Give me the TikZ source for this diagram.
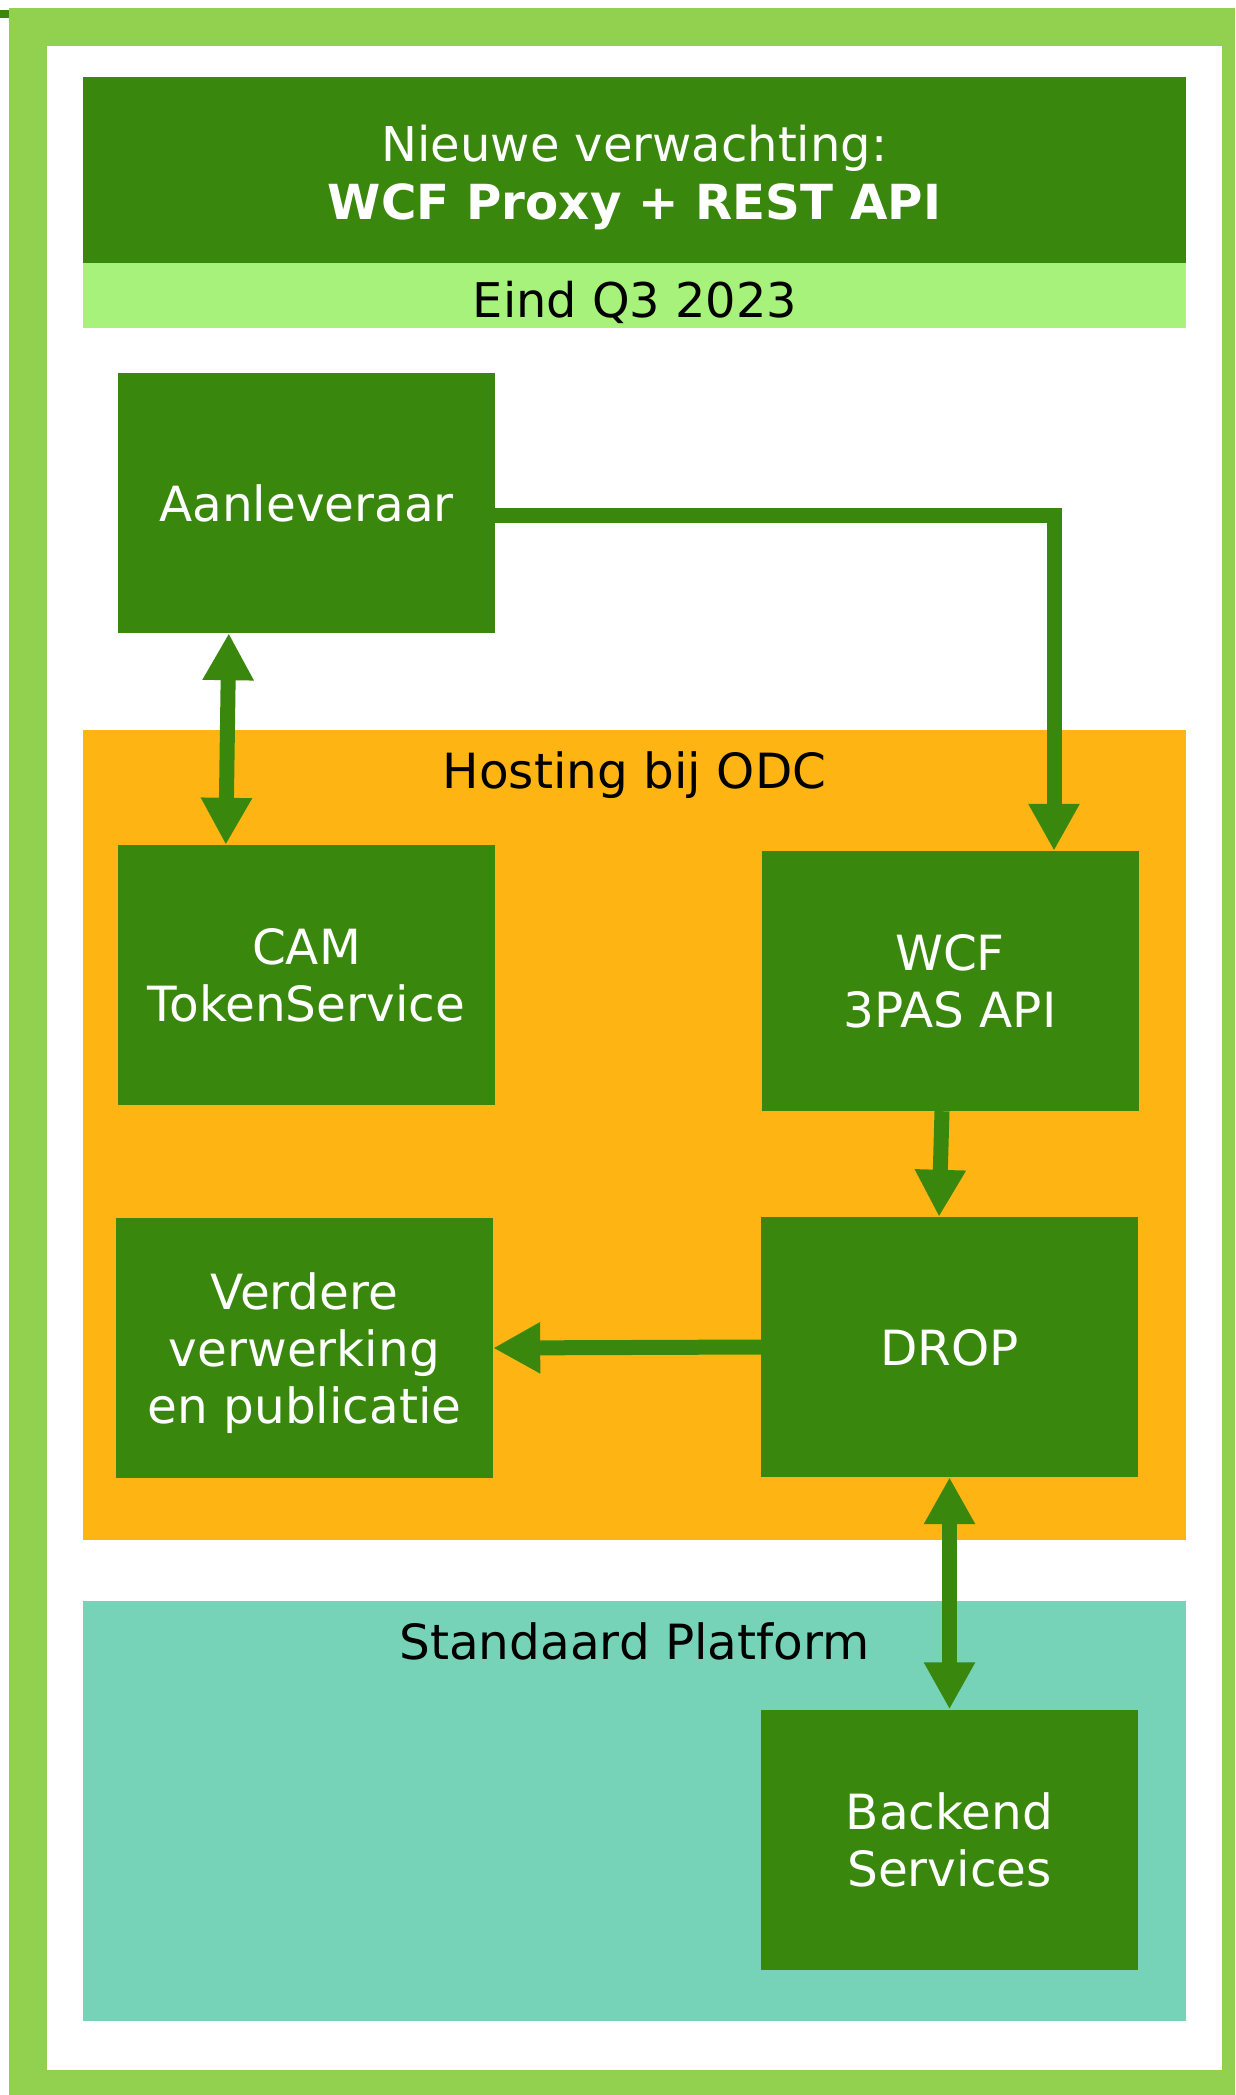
\documentclass[tikz,border=0pt]{standalone}
\usepackage{fontspec}
\setmainfont{DejaVu Sans}
\usetikzlibrary{arrows.meta}
\definecolor{frameG}{HTML}{92D050}
\definecolor{darkG}{HTML}{3A870D}
\definecolor{lightG}{HTML}{A6F27A}
\definecolor{orangeB}{HTML}{FEB513}
\definecolor{tealB}{HTML}{76D3B7}
\begin{document}
\begin{tikzpicture}[x=1pt,y=-1pt,
  box/.style={fill=darkG, text=white, minimum width=377pt, minimum height=260pt,
    inner sep=0pt, align=center, text depth=0pt, font=\fontsize{48.5}{57}\selectfont},
  hdr/.style={anchor=base, inner sep=0pt, font=\fontsize{48.5}{57}\selectfont},
  ttl/.style={anchor=base, inner sep=0pt, text=white, font=\fontsize{48}{57}\selectfont},
  conn/.style={draw=darkG, line width=15pt},
  both/.style={conn, {Triangle[width=48pt,length=47pt]}-{Triangle[width=48pt,length=47pt]}},
  one/.style={conn, -{Triangle[width=48pt,length=47pt]}}]
\useasboundingbox (0,0) rectangle (1235,2095);
% frame
\fill[frameG] (9,8) rectangle (1235,2095);
\fill[white] (47,46) rectangle (1222,2070);
\fill[darkG] (0,10) rectangle (9,18);
% regions
\fill[darkG] (83,77) rectangle (1186,263);
\node[ttl] (t1) at (634.5,161.6) {Nieuwe verwachting:};
\node[ttl, font=\fontsize{48.3}{57}\selectfont\bfseries] (t2) at (634.5,219.5) {WCF Proxy + REST API};
\fill[lightG] (83,263) rectangle (1186,328);
\node[hdr, font=\fontsize{47.8}{57}\selectfont] (eind) at (635,317) {Eind Q3 2023};
\fill[orangeB] (83,730) rectangle (1186,1540);
\node[hdr] (host) at (634.5,788) {Hosting bij ODC};
\fill[tealB] (83,1601) rectangle (1186,2021);
\node[hdr] (std) at (634.5,1659) {Standaard Platform};
% boxes
\node[box] (aan) at (306.5,503) {Aanleveraar};
\node[box] (cam) at (306.5,975) {CAM\\TokenService};
\node[box] (wcf) at (950,981) {WCF\\3PAS API};
\node[box] (ver) at (304.5,1348) {Verdere\\verwerking\\en publicatie};
\node[box] (drop) at (949.5,1347) {DROP};
\node[box] (back) at (949.5,1839.5) {Backend\\Services};
% connectors
\draw[both] ([xshift=111pt]aan.south west) -- ([xshift=108pt]cam.north west);
\draw[one] ([yshift=-12pt]aan.east) -| ([xshift=104pt]wcf.north);
\draw[one] ([xshift=-8pt]wcf.south) -- ([xshift=-10.5pt]drop.north);
\draw[one] (drop.west) -- (ver.east);
\draw[both] (drop.south) -- (back.north);
\end{tikzpicture}
\end{document}
